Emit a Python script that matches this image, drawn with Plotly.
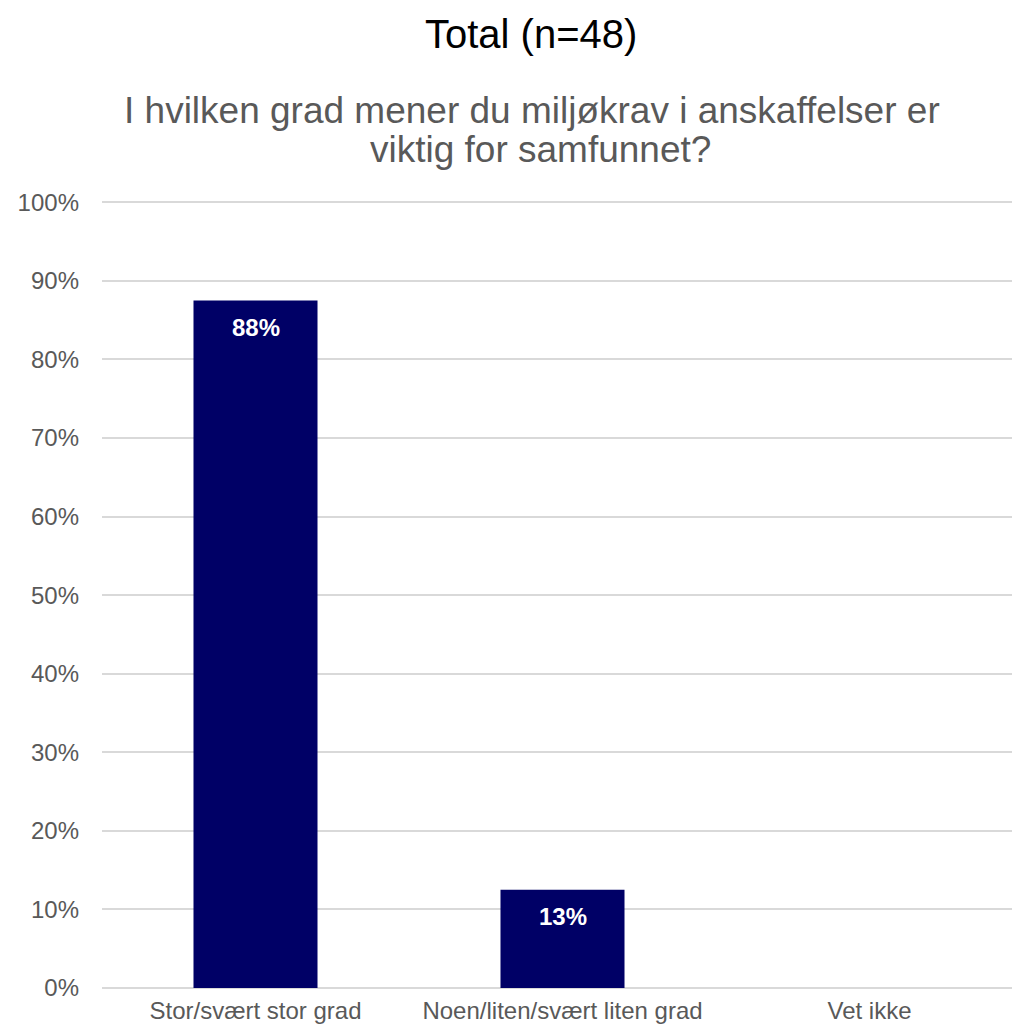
import math
import plotly.graph_objects as go

categories = ["Stor/svært stor grad", "Noen/liten/svært liten grad", "Vet ikke"]
values = [87.5, 12.5, 0.0]
y_ticks = [0, 10, 20, 30, 40, 50, 60, 70, 80, 90, 100]
title_text = "Total (n=48)"
subtitle_lines = ["I hvilken grad mener du miljøkrav i anskaffelser er", "viktig for samfunnet?"]

labels = [f"{math.floor(v + 0.5)}%" if v > 0 else "" for v in values]
tick_text = [f"{t}%" for t in y_ticks]

FONT = "Liberation Sans, Arial, sans-serif"
GRAY = "#595959"

W, H = 1023, 1028
L, R, T, B = 102, 0, 200, 40
PH = H - T - B
PW = W - L - R


def paper_y(px):
    return (H - B - px) / PH


def paper_x(px):
    return (px - L) / PW


fig = go.Figure(
    go.Bar(
        x=categories,
        y=values,
        marker=dict(color="#000066", line=dict(width=0)),
        hoverinfo="x+y",
    )
)

annotations = [
    dict(text=title_text, xref="paper", yref="paper", x=paper_x(531), y=paper_y(34),
         xanchor="center", yanchor="middle", showarrow=False,
         font=dict(family=FONT, size=40, color="black")),
]
for line, cx, cy in zip(subtitle_lines, [532, 540], [110, 150]):
    annotations.append(
        dict(text=line, xref="paper", yref="paper", x=paper_x(cx), y=paper_y(cy),
             xanchor="center", yanchor="middle", showarrow=False,
             font=dict(family=FONT, size=37, color=GRAY))
    )
for cat, v, lab in zip(categories, values, labels):
    if lab:
        annotations.append(
            dict(text=f"<b>{lab}</b>", x=cat, y=v, xref="x", yref="y",
                 yanchor="middle", yshift=-27, showarrow=False,
                 font=dict(family=FONT, size=24, color="white"))
        )

fig.update_layout(
    width=W,
    height=H,
    margin=dict(l=L, r=R, t=T, b=B),
    paper_bgcolor="white",
    plot_bgcolor="white",
    bargap=0.596,
    showlegend=False,
    font=dict(family=FONT, color=GRAY),
    annotations=annotations,
)

fig.update_yaxes(
    range=[0, 100.3],
    tickmode="array",
    tickvals=y_ticks,
    ticktext=tick_text,
    showgrid=True,
    gridcolor="#d9d9d9",
    gridwidth=2,
    zeroline=True,
    zerolinecolor="#d9d9d9",
    zerolinewidth=2,
    showline=False,
    tickfont=dict(family=FONT, size=24, color=GRAY),
    ticklabelstandoff=22,
    fixedrange=True,
)
fig.update_xaxes(
    showgrid=False,
    showline=False,
    tickfont=dict(family=FONT, size=24, color=GRAY),
    ticklabelstandoff=6,
)

fig.write_html(
    "out.html",
    config={"displayModeBar": False},
    post_script="document.body.style.margin='0';document.body.style.overflow='hidden';",
)
